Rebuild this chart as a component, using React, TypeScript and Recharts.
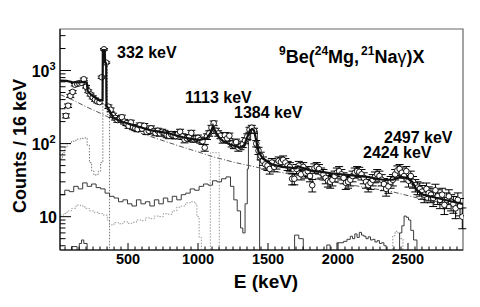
import React from "react";
import {
  ComposedChart,
  ErrorBar,
  Line,
  ReferenceArea,
  Scatter,
  XAxis,
  YAxis,
} from "recharts";

const FONT = '"Liberation Sans", Arial, Helvetica, sans-serif';

// measured spectrum, counts per 16 keV bin, first bin centred at 56 keV
const binStart = 56;
const binWidth = 16;
const counts = [
  240, 330, 450, 510, 640, 660, 670, 680, // 56-168
  760, 600, 520, 470, 430, 400, 380, 370, // 184-296
  810, 1950, 1280, 320, 290, 245, 225, 210, // 312-424
  215, 230, 200, 190, 175, 195, 168, 163, // 440-552
  158, 178, 160, 175, 145, 150, 162, 148, // 568-680
  140, 150, 138, 145, 140, 132, 128, 135, // 696-808
  130, 127, 135, 145, 125, 113, 118, 122, // 824-936
  140, 115, 118, 120, 112, 108, 88, 125, // 952-1064
  138, 165, 190, 150, 138, 128, 112, 130, // 1080-1192
  118, 128, 100, 95, 105, 88, 92, 98, // 1208-1320
  110, 125, 155, 165, 150, 100, 80, 68, // 1336-1448
  58, 52, 50, 45, 55, 48, 52, 58, // 1464-1576
  56, 60, 55, 50, 48, 33, 33, 45, // 1592-1704
  50, 38, 48, 40, 42, 36, 27, 46, // 1720-1832
  48, 45, 40, 38, 34, 31, 30, 32, // 1848-1960
  36, 40, 42, 38, 34, 29, 30, 32, // 1976-2088
  36, 40, 42, 41, 38, 34, 30, 27, // 2104-2216
  29, 32, 35, 38, 36, 32, 28, 24, // 2232-2344
  26, 30, 32, 38, 43, 45, 40, 36, // 2360-2472
  42, 31, 36, 30, 27, 25, 24, 22, // 2488-2600
  20, 24, 21, 20, 18, 23, 19, 17, // 2616-2728
  20, 14.5, 17, 19, 16, 15, 13, 17, // 2744-2856
  14, 10, // 2872-2888
];

// total fit
const fitE = [
  14, 60, 100, 150, 190, 205, 212, 240, 270, 300, 318, 320, 334, 336, 344, 346,
  360, 376, 393, 430, 464, 500, 536, 600, 657, 720, 779, 840, 893, 950, 1014,
  1064, 1090, 1107, 1125, 1150, 1179, 1230, 1300, 1330, 1350, 1370, 1386, 1400,
  1416, 1432, 1464, 1529, 1600, 1657, 1700, 1714, 1740, 1800, 1880, 1964, 2086,
  2207, 2321, 2393, 2443, 2493, 2530, 2564, 2607, 2707, 2821, 2893,
];
const fitY = [
  730, 720, 695, 690, 700, 690, 520, 460, 420, 385, 400, 1900, 1900, 1300, 1250,
  330, 300, 265, 228, 210, 197, 188, 179, 165, 153, 146, 140, 130, 122, 116, 112,
  119, 140, 175, 145, 122, 108, 97, 88, 95, 120, 150, 158, 152, 110, 78, 62, 52,
  48, 47, 46, 49, 47, 43, 41, 39, 37, 35, 32, 32, 35, 34, 30, 23, 20, 18, 16, 15,
];

// smooth background (dash-dot)
const bgE = [14, 100, 200, 330, 450, 536, 700, 871, 1000, 1107, 1250, 1386, 1600, 1800, 2100, 2386, 2621, 2893];
const bgY = [470, 400, 320, 246, 185, 150, 118, 92, 77, 66, 56, 49, 40, 34, 27, 22, 17, 14];

// 1384 keV response (solid histogram)
const h1384E = [
  14, 48, 80, 112, 144, 176, 208, 240, 272, 304, 336, 368, 400, 432, 464, 496,
  528, 560, 592, 624, 656, 688, 720, 752, 784, 816, 848, 880, 912, 944, 976,
  1008, 1040, 1072, 1104, 1136, 1168, 1200, 1232, 1256, 1280, 1304, 1320, 1336,
  1352, 1360, 1376, 1408, 1424, 1440,
];
const h1384Y = [
  20, 23, 22, 26, 24, 29, 26, 28, 25, 24, 21, 19, 18, 16, 17, 15, 14, 17, 15, 16,
  14, 17, 15, 18, 16, 19, 17, 20, 21, 24, 23, 26, 28, 27, 31, 30, 33, 35, 26, 17,
  12, 7, 6, 15, 45, 110, 160, 150, 60, 1,
];

// 2497 keV response (solid histogram)
const h2497E = [
  14, 96, 136, 152, 168, 184, 208, 1690, 1720, 1752, 1920, 1944, 1992, 2040,
  2064, 2088, 2104, 2120, 2136, 2152, 2168, 2184, 2200, 2216, 2232, 2248, 2264,
  2280, 2296, 2312, 2328, 2344, 2440, 2456, 2472, 2488, 2504, 2520, 2540, 2564,
];
const h2497Y = [
  1, 3.9, 1, 4.3, 4.8, 4.3, 1, 5.6, 5.0, 1, 4.1, 1, 4.4, 4.6, 4.9, 5.4, 5.0, 5.8,
  5.2, 6.1, 5.6, 5.4, 5.0, 5.3, 4.8, 4.9, 4.5, 4.7, 4.3, 4.4, 4.0, 1, 6.0, 7.5,
  10.2, 9.8, 9.0, 6.5, 4.8, 1,
];

// 332 keV response (dotted)
const h332E = [14, 32, 48, 64, 96, 128, 160, 192, 208, 224, 240, 256, 272, 288, 304, 320, 336, 352, 368];
const h332Y = [63, 75, 88, 100, 108, 115, 118, 120, 95, 55, 42, 37, 38, 42, 55, 1900, 1300, 250, 1];

// 1113 keV response (dotted)
const h1113E = [
  14, 40, 64, 96, 128, 160, 192, 224, 256, 288, 320, 352, 368, 400, 432, 464,
  496, 528, 560, 592, 624, 656, 688, 720, 752, 784, 816, 848, 880, 912, 944,
  976, 992, 1008, 1024, 1040, 1088, 1152,
];
const h1113Y = [
  10.5, 11, 12, 13, 14.4, 14, 13, 12, 11.5, 11, 10.5, 9, 7.7, 8.3, 8, 8.5, 8.1,
  8.4, 9, 8.8, 9.6, 9.4, 10.2, 10, 11, 10.8, 12, 13.5, 14, 15.5, 16, 15, 10, 5.2,
  3, 1, 75, 1,
];

// 2424 keV response (dotted)
const h2424E = [2380, 2392, 2408, 2424, 2440, 2464];
const h2424Y = [1, 5.5, 6.3, 6.0, 5.0, 1];

const rows = (xs: number[], ys: number[]) => xs.map((E, i) => ({ E, v: ys[i] }));

const points = counts.map((v, i) => ({
  E: binStart + i * binWidth,
  v,
  err: Math.sqrt(v),
}));

const xTicks = Array.from({ length: 57 }, (_, i) => 50 + 50 * i);
const yTicks = [1, 10, 100, 1000]
  .flatMap((d) => [1, 2, 3, 4, 5, 6, 7, 8, 9].map((k) => k * d))
  .filter((v) => v >= 4 && v <= 3700);

const XTick = ({ x, y, payload }: any) => {
  const v = payload.value as number;
  const major = v % 500 === 0;
  return (
    <g>
      <line x1={x} x2={x} y1={y} y2={y - (major ? 7 : 3.5)} stroke="#000" />
      {major && (
        <text
          x={x}
          y={y + 13.5}
          textAnchor="middle"
          fontFamily={FONT}
          fontWeight="bold"
          fontSize={14.5}
          fill="#000"
        >
          {v}
        </text>
      )}
    </g>
  );
};

const YTick = ({ x, y, payload }: any) => {
  const v = payload.value as number;
  const exp = Math.round(Math.log10(v));
  const major = Math.abs(v - Math.pow(10, exp)) < 1e-6;
  const txt = { fontFamily: FONT, fontWeight: "bold" as const, fill: "#000" };
  return (
    <g>
      <line x1={x} x2={x + (major ? 11 : 5.5)} y1={y} y2={y} stroke="#000" />
      {major && exp === 1 && (
        <text x={x - 3} y={y + 6} textAnchor="end" fontSize={16} {...txt}>
          10
        </text>
      )}
      {major && exp > 1 && (
        <>
          <text x={x - 10.5} y={y + 6} textAnchor="end" fontSize={16} {...txt}>
            10
          </text>
          <text x={x - 10.5} y={y - 1} fontSize={11} {...txt}>
            {exp}
          </text>
        </>
      )}
    </g>
  );
};

const OpenCircle = ({ cx, cy }: any) => (
  <circle cx={cx} cy={cy} r={2.8} fill="#fff" stroke="#000" strokeWidth={0.9} />
);

const hist = (data: any[], color: string, dash?: string, key?: string) => (
  <Line
    key={key}
    data={data}
    dataKey="v"
    type="stepAfter"
    stroke={color}
    strokeWidth={1}
    strokeDasharray={dash}
    dot={false}
    activeDot={false}
    isAnimationActive={false}
  />
);

export default function App() {
  const bold = { fontFamily: FONT, fontWeight: "bold" as const, fill: "#000" };
  return (
    <div style={{ position: "absolute", left: 0, top: 0, width: 480, height: 307, background: "#fff" }}>
      <ComposedChart
        width={480}
        height={307}
        margin={{ top: 29, right: 17, bottom: 0, left: 0 }}
      >
        <XAxis
          dataKey="E"
          type="number"
          domain={[14, 2893]}
          allowDataOverflow
          ticks={xTicks}
          interval={0}
          tick={<XTick />}
          tickLine={false}
          tickSize={0}
          tickMargin={0}
          height={57}
          axisLine={{ stroke: "#000" }}
        />
        <YAxis
          type="number"
          scale="log"
          domain={[3.5, 3700]}
          allowDataOverflow
          ticks={yTicks}
          interval={0}
          tick={<YTick />}
          tickLine={false}
          tickSize={0}
          tickMargin={0}
          width={60}
          axisLine={{ stroke: "#000" }}
        />
        <ReferenceArea
          x1={14}
          x2={2893}
          y1={3.5}
          y2={3700}
          fill="none"
          stroke="#666"
          strokeWidth={1.2}
          ifOverflow="visible"
        />
        {hist(rows(h332E, h332Y), "#777", "1.5 1.5", "h332")}
        {hist(rows(h1113E, h1113Y), "#999", "1.5 1.5", "h1113")}
        {hist(rows(h2424E, h2424Y), "#888", "1.5 1.5", "h2424")}
        {hist(rows(h1384E, h1384Y), "#3a3a3a", undefined, "h1384")}
        {hist(rows(h2497E, h2497Y), "#3a3a3a", undefined, "h2497")}
        <Line
          data={rows(bgE, bgY)}
          dataKey="v"
          type="linear"
          stroke="#555"
          strokeWidth={1}
          strokeDasharray="5 2 1 2"
          dot={false}
          activeDot={false}
          isAnimationActive={false}
        />
        <Scatter
          data={points}
          dataKey="v"
          shape={<OpenCircle />}
          isAnimationActive={false}
        >
          <ErrorBar dataKey="err" direction="y" width={4} stroke="#000" strokeWidth={1} />
        </Scatter>
        <Line
          data={rows(fitE, fitY)}
          dataKey="v"
          type="linear"
          stroke="#111"
          strokeWidth={2.2}
          dot={false}
          activeDot={false}
          isAnimationActive={false}
          {...({ zIndex: 700 } as any)}
        />
      </ComposedChart>
      <svg
        width={480}
        height={307}
        style={{ position: "absolute", left: 0, top: 0, pointerEvents: "none" }}
      >
        <text x={117} y={58} fontSize={16} {...bold}>332 keV</text>
        <text x={185} y={103} fontSize={16} {...bold}>1113 keV</text>
        <text x={234} y={118} fontSize={16} {...bold}>1384 keV</text>
        <text x={384} y={143} fontSize={16} {...bold}>2497 keV</text>
        <text x={363} y={158} fontSize={16} {...bold}>2424 keV</text>
        <text x={279} y={63} fontSize={18} {...bold}>
          <tspan fontSize={12} dy={-8}>9</tspan>
          <tspan dy={8}>Be(</tspan>
          <tspan fontSize={12} dy={-8}>24</tspan>
          <tspan dy={8}>Mg,</tspan>
          <tspan fontSize={12} dy={-8} dx={2}>21</tspan>
          <tspan dy={8}>Na</tspan>
          <tspan fontWeight="normal">γ</tspan>
          <tspan>)X</tspan>
        </text>
        <text x={266} y={288} fontSize={19} textAnchor="middle" {...bold}>E (keV)</text>
        <text
          transform="translate(25.5,146) rotate(-90)"
          fontSize={18}
          textAnchor="middle"
          {...bold}
        >
          Counts / 16 keV
        </text>
      </svg>
    </div>
  );
}
